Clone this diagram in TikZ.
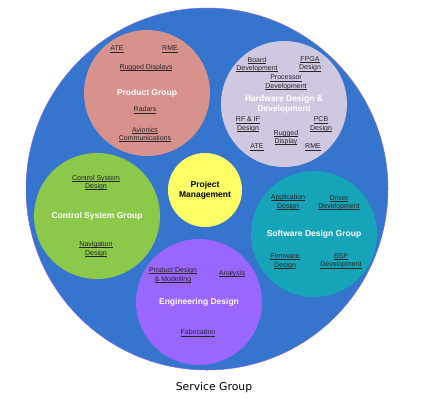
\documentclass[tikz,border=0pt]{standalone}
\usepackage{fontspec}
\setmainfont{Liberation Sans}
\newfontfamily\capfont{DejaVu Sans}
\usetikzlibrary{positioning}
\definecolor{sgblue}{RGB}{54,117,205}
\definecolor{sgedge}{RGB}{125,105,235}
\definecolor{pgpink}{RGB}{215,146,140}
\definecolor{hwlilac}{RGB}{208,200,224}
\definecolor{csgreen}{RGB}{140,200,74}
\definecolor{pmyellow}{RGB}{255,255,102}
\definecolor{swteal}{RGB}{22,164,184}
\definecolor{edviolet}{RGB}{153,102,255}
\newcommand{\lnk}[1]{\setbox0=\hbox{#1}\rlap{\rule[-1.1pt]{\wd0}{0.45pt}}\box0}

\begin{document}
\begin{tikzpicture}
			[x=1pt,y=-1pt,on grid,
			group/.style={circle,inner sep=0pt,minimum size=126pt,text=white,align=center,font=\fontsize{8.5}{10}\selectfont\bfseries},
			item/.style={inner sep=0pt,align=center,text=black!85,font=\fontsize{7}{8.5}\selectfont}]
			\useasboundingbox (0,0) rectangle (425,400);

			\node [circle,fill=sgblue,draw=sgedge,line width=0.5pt,minimum size=362pt,inner sep=0pt] (sg) at (207,189) {};
			\node (cap) [below right=199pt and 7pt of sg,font=\capfont\fontsize{10.8}{12}\selectfont] {Service Group};

			% product group
			\node [group,fill=pgpink](pg) [above left=96pt and 60pt of sg] {Product Group};
				\node [item](pg-ate) [above left=44pt and 30pt of pg]   {\lnk{ATE}};
				\node [item](pg-rme) [above right=44pt and 23pt of pg]  {\lnk{RME}};
				\node [item](pg-rd)  [above left=25pt and 1pt of pg]    {\lnk{Rugged Displays}};
				\node [item](pg-rad) [below left=17pt and 2pt of pg]    {\lnk{Radars}};
				\node [item](pg-av)  [below left=41.5pt and 2pt of pg]  {\lnk{Avionics}\\\lnk{Communications}};

			% hardware design
			\node [group,fill=hwlilac](hw) [above right=85pt and 77pt of sg] {Hardware Design \&\\Development};
				\node [item](hw-bd)  [above left=39.5pt and 27pt of hw]   {\lnk{Board}\\\lnk{Development}};
				\node [item](hw-fp)  [above right=40pt and 26pt of hw]    {\lnk{FPGA}\\\lnk{Design}};
				\node [item](hw-pd)  [above right=21.5pt and 2pt of hw]   {\lnk{Processor}\\\lnk{Development}};
				\node [item](hw-rf)  [below left=20.5pt and 36pt of hw]   {\lnk{RF \& IF}\\\lnk{Design}};
				\node [item](hw-pcb) [below right=20.5pt and 37pt of hw]  {\lnk{PCB}\\\lnk{Design}};
				\node [item](hw-rug) [below right=33.5pt and 2pt of hw]   {\lnk{Rugged}\\\lnk{Display}};
				\node [item](hw-ate) [below left=43pt and 27pt of hw]     {\lnk{ATE}};
				\node [item](hw-rme) [below right=43pt and 29pt of hw]    {\lnk{RME}};

			% control system group
			\node [group,fill=csgreen](cs) [below left=27pt and 110pt of sg] {Control System Group};
				\node [item](cs-csd) [above left=33.5pt and 1pt of cs]  {\lnk{Control System}\\\lnk{Design}};
				\node [item](cs-nav) [below left=33pt and 1pt of cs]    {\lnk{Navigation}\\\lnk{Design}};

			% project management
			\node [group,fill=pmyellow,text=black,minimum size=74pt](pm) [below left=1pt and 2pt of sg] {Project\\Management};

			% software design group
			\node [group,fill=swteal](sw) [below right=45pt and 107pt of sg] {Software Design Group};
				\node [item](sw-app) [above left=32pt and 26pt of sw]    {\lnk{Application}\\\lnk{Design}};
				\node [item](sw-drv) [above right=31.5pt and 25pt of sw] {\lnk{Driver}\\\lnk{Development}};
				\node [item](sw-fw)  [below left=27pt and 29pt of sw]    {\lnk{Firmware}\\\lnk{Design}};
				\node [item](sw-bsp) [below right=27pt and 27pt of sw]   {\lnk{BSP}\\\lnk{Development}};

			% engineering design
			\node [group,fill=edviolet](ed) [below left=113pt and 8pt of sg] {Engineering Design};
				\node [item](ed-pdm) [above left=27pt and 26pt of ed]   {\lnk{Product Design}\\\lnk{\& Modelling}};
				\node [item](ed-an)  [above right=28pt and 33pt of ed]  {\lnk{Analysis}};
				\node [item](ed-fab) [below left=31pt and 1pt of ed]    {\lnk{Fabrication}};
			\end{tikzpicture}
\end{document}
